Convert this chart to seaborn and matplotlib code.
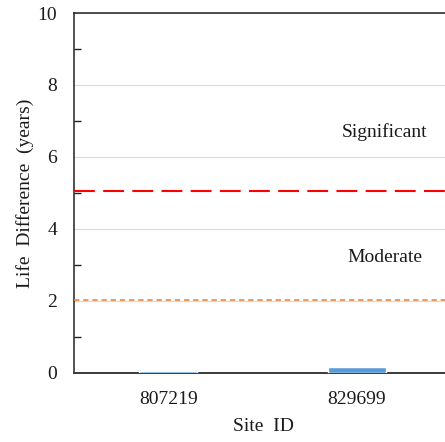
import matplotlib
matplotlib.use("Agg")
import matplotlib.pyplot as plt
from matplotlib.ticker import MultipleLocator
import seaborn as sns
import pandas as pd

# Site data: life difference in years
sites = ["807219", "829699"]
life_diff = [0.05, 0.15]

# Threshold lines
significant_threshold = 5.05
moderate_threshold = 2.03

# Zone labels and their positions (x in category units, y in years)
zone_labels = ["Significant", "Moderate"]
zone_label_x = [1.15, 1.15]
zone_label_y = [6.69, 3.2]

sns.set_theme(style="white")
plt.rcParams["font.family"] = ["Liberation Serif", "DejaVu Serif"]

df = pd.DataFrame({"Site ID": sites, "Life Difference": life_diff})

fig = plt.figure(figsize=(4.45, 4.42), dpi=100)
ax = fig.add_axes([74 / 445, 1 - 372.7 / 442, 377 / 445, (372.7 - 13) / 442])

sns.barplot(data=df, x="Site ID", y="Life Difference", color="#5B9BD5",
            width=0.31, saturation=1, ax=ax, zorder=3)

ax.set_ylim(0, 10)
ax.set_xlim(-0.5, 1.5)
ax.yaxis.set_major_locator(MultipleLocator(2))
ax.yaxis.set_minor_locator(MultipleLocator(1))
ax.grid(axis="y", which="major", color="#D9D9D9", linewidth=0.8, zorder=0)
ax.set_axisbelow(True)

ax.axhline(significant_threshold, color="#FF0000", linewidth=1.5,
           linestyle=(0, (10, 4)), zorder=4)
ax.axhline(moderate_threshold, color="#ED7D31", linewidth=1.1,
           linestyle=(0, (3.5, 2.5)), zorder=4)

for label, x, y in zip(zone_labels, zone_label_x, zone_label_y):
    ax.text(x, y, label, ha="center", va="center", fontsize=14, color="#1a1a1a")

for side in ["left", "top", "bottom"]:
    ax.spines[side].set_visible(True)
    ax.spines[side].set_color("#222222")
    ax.spines[side].set_linewidth(1.1)
ax.spines["right"].set_visible(False)
ax.spines["bottom"].set_color("#3a3a3a")
ax.spines["bottom"].set_linewidth(1.4)

ax.tick_params(axis="y", which="major", length=0, pad=12, labelsize=14,
               labelcolor="#1a1a1a")
ax.tick_params(axis="y", which="minor", direction="in", length=5, width=1.0,
               color="#222222", left=True)
ax.tick_params(axis="x", which="both", length=0, pad=13, labelsize=14,
               labelcolor="#1a1a1a")

ax.set_xlabel("Site  ID", fontsize=14, color="#1a1a1a")
ax.set_ylabel("Life  Difference  (years)", fontsize=14, color="#1a1a1a")
ax.xaxis.set_label_coords(0.503, -0.125)
ax.yaxis.set_label_coords(-0.107, 0.5)

fig.savefig("out.png", dpi=100)
